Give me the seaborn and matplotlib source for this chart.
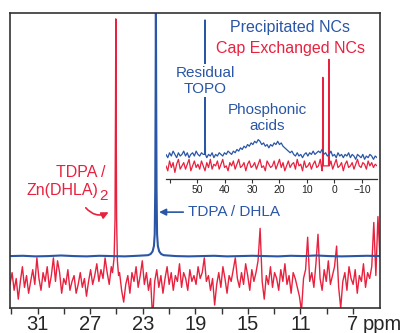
import matplotlib
matplotlib.use("Agg")
import matplotlib.pyplot as plt
import seaborn as sns
import numpy as np
import pandas as pd

# ---- main spectrum (ppm, intensity in % of axis height) ----
main_ppm_range = (33.1, 4.95)
red_noise = [
    8, 12, 6, 10, 3, 9, 14, 7, 11, 5,
    9, 13, 8, 17, 10, 6, 12, 9, 14, 7,
    11, 17, 9, 16, 12, 5, 10, 8, 13, 6,
    9, 11, 5, 8, 12, 7, 10, 4, 9, 13,
    8, 11, 15, 9, 13, 10, 17, 12, 8, 14,
    10, 13, 9, 12, 6, 2, 8, 11, 5, 12,
    9, 14, 7, 11, 16, 8, 12, 6, 10, -4,
    9, 13, 7, 11, 5, 10, 14, 8, 12, 6,
    11, 9, 15, 7, 12, 10, 6, 13, 9, 11,
    8, 14, 10, 12, 17, 9, 11, 6, 10, 1,
    8, 12, 7, 14, 10, 5, 11, 9, 13, 17,
    10, 7, 12, 8, 15, 11, 6, 13, 9, 12,
    16, 27, 9, 3, 11, 8, 14, 7, 12, 10,
    6, 13, 9, 15, 8, 11, 5, 12, 10, 7,
    4, -1, 10, 13, 24, 9, 12, 7, 15, 25,
    10, 6, 13, 9, 16, 8, 11, 14, 21, 7,
    0, 9, 12, 6, 14, 10, 8, 13, 5, 11,
    9, 15, 7, 12, 10, 14, 29, 11, 31, 17,
]
red_peak_ppm = [25.30, 25.18, 25.11, 25.07, 25.05, 25.03, 24.99, 24.93, 24.84]
red_peak_val = [12, 17, 30, 70, 98, 70, 30, 16, 11]

blue_base = [17.6, 17.7, 17.5, 17.6, 17.8, 17.6, 17.5, 17.7, 17.6, 17.5,
             17.7, 17.6, 17.8, 17.6, 17.5, 17.6, 17.7, 17.5, 17.6, 17.7,
             17.6, 17.5, 17.7, 17.6, 17.8, 17.6, 17.5, 17.6, 17.7, 17.6]
blue_peak_ppm = [22.60, 22.40, 22.25, 22.15, 22.09, 22.05, 22.02, 22.00,
                 21.98, 21.95, 21.91, 21.85, 21.75, 21.60, 21.40]
blue_peak_val = [17.9, 18.3, 19.2, 21.0, 25, 40, 75, 105, 75, 40, 25,
                 21.0, 19.2, 18.3, 17.9]

# ---- inset spectrum ----
inset_ppm_range = (61.3, -15.5)
inset_blue = [
    15, 13, 16, 14, 17, 15, 13, 16, 14, 15,
    17, 14, 16, 13, 15, 16, 14, 17, 15, 14,
    16, 15, 14, 13, 15, 14, 16, 13, 15, 14,
    16, 15, 14, 16, 15, 17, 16, 15, 17, 16,
    18, 17, 19, 18, 20, 19, 21, 20, 22, 21,
    23, 22, 24, 23, 21, 22, 20, 21, 19, 21,
    20, 22, 21, 23, 21, 22, 20, 19, 18, 17,
    16, 17, 15, 14, 16, 14, 15, 13, 15, 16,
    14, 16, 15, 17, 15, 16, 17, 16, 18, 15,
    16, 14, 15, 17, 14, 15, 13, 16, 14, 15,
    13, 15, 14, 16, 13, 15, 14, 12, 15, 14,
    13, 15, 12, 14, 13, 15, 14, 12, 14, 13,
]
inset_red = [
    8, 5, 11, 7, 10, 4, 9, 12, 6, 8,
    10, 6, 9, 12, 5, 8, 11, 7, 9, 6,
    11, 8, 5, 10, 7, 12, 6, 9, 8, 11,
    6, 9, 12, 7, 8, 5, 10, 8, 11, 6,
    9, 12, 7, 8, 10, 5, 9, 11, 7, 8,
    10, 6, 9, 12, 7, 8, 5, 11, 9, 7,
    8, 11, 6, 9, 12, 7, 10, 5, 8, 11,
    7, 9, 10, 6, 12, 8, 9, 5, 11, 7,
    8, 10, 6, 9, 11, 7, 8, 12, 5, 9,
    10, 7, 8, 11, 6, 9, 12, 7, 8, 10,
    5, 9, 11, 7, 8, 10, 6, 9, 12, 8,
    7, 10, 9, 6, 11, 8, 10, 7, 9, 8,
]
topo_ppm = [47.25, 47.1, 46.95]
topo_val = [15, 97, 15]
red_spike_ppm = [4.35, 4.2, 4.05, 2.15, 2.0, 1.85]
red_spike_val = [8, 62, 8, 8, 73, 8]

main_ticks = [31, 27, 23, 19, 15, 11, 7]
main_minor = [33, 29, 25, 21, 17, 13, 9]
inset_ticks = [60, 50, 40, 30, 20, 10, 0, -10]
inset_labels = ["", "50", "40", "30", "20", "10", "0", "\u221210"]

BLUE = "#2a56a6"
RED = "#e8213f"


def trace(ppm_range, values, extra_ppm=(), extra_val=()):
    # evenly spaced spectrum points, with the sharp lines spliced in
    ppm = np.linspace(ppm_range[0], ppm_range[1], len(values))
    keep = np.ones(len(ppm), dtype=bool)
    if len(extra_ppm):
        keep = (ppm > max(extra_ppm)) | (ppm < min(extra_ppm))
    df = pd.DataFrame({"ppm": np.concatenate([ppm[keep], extra_ppm]),
                       "intensity": np.concatenate([np.array(values)[keep],
                                                    extra_val])})
    return df.sort_values("ppm")


sns.set_theme(style="white")
plt.rcParams["font.family"] = ["Liberation Sans", "DejaVu Sans"]

fig = plt.figure(figsize=(4.05, 3.33), dpi=100)
ax = fig.add_axes([10 / 405, 25 / 333, 370 / 405, 295 / 333])
ax_in = fig.add_axes([166 / 405, 154 / 333, 211 / 405, 164 / 333])

red_df = trace(main_ppm_range, red_noise, red_peak_ppm, red_peak_val)
blue_df = trace(main_ppm_range, blue_base, blue_peak_ppm, blue_peak_val)
sns.lineplot(data=red_df, x="ppm", y="intensity", ax=ax, estimator=None,
             color=RED, linewidth=1.0)
sns.lineplot(data=blue_df, x="ppm", y="intensity", ax=ax, estimator=None,
             color=BLUE, linewidth=1.5)

ax.set_xlim(*main_ppm_range)
ax.set_ylim(0, 100)
ax.set_yticks([])
ax.set_xlabel("")
ax.set_ylabel("")
ax.set_xticks(main_ticks)
ax.set_xticklabels([str(t) for t in main_ticks])
ax.set_xticks(main_minor, minor=True)
ax.tick_params(axis="x", which="both", direction="out", length=4, width=1,
               color="#333333", bottom=True, labelsize=14.5, pad=1)
for s in ax.spines.values():
    s.set_color("#333333")
    s.set_linewidth(1.2)
ax.annotate("ppm", xy=(0.954, 0), xycoords="axes fraction",
            xytext=(0, -5), textcoords="offset points",
            ha="left", va="top", fontsize=14.5)

ax.text(0.259, 0.458, "TDPA /", transform=ax.transAxes,
        ha="right", va="center", color=RED, fontsize=11.5)
ax.text(0.240, 0.397, "Zn(DHLA)", transform=ax.transAxes,
        ha="right", va="center", color=RED, fontsize=11.5)
ax.text(0.240, 0.379, "2", transform=ax.transAxes,
        ha="left", va="center", color=RED, fontsize=11)
ax.annotate("", xy=(0.273, 0.329), xytext=(0.200, 0.347),
            xycoords="axes fraction",
            arrowprops=dict(arrowstyle="-|>", color=RED, lw=1.2,
                            connectionstyle="arc3,rad=0.45",
                            mutation_scale=10))
ax.annotate("TDPA / DHLA", xy=(0.403, 0.325), xytext=(0.481, 0.325),
            xycoords="axes fraction", ha="left", va="center",
            color=BLUE, fontsize=11,
            arrowprops=dict(arrowstyle="-|>", color=BLUE, lw=1.2,
                            mutation_scale=10, shrinkA=1, shrinkB=0))

# ---- inset ----
in_blue = trace(inset_ppm_range, inset_blue, topo_ppm, topo_val)
in_red = trace(inset_ppm_range, inset_red, red_spike_ppm, red_spike_val)
sns.lineplot(data=in_red, x="ppm", y="intensity", ax=ax_in, estimator=None,
             color=RED, linewidth=0.9)
sns.lineplot(data=in_blue, x="ppm", y="intensity", ax=ax_in, estimator=None,
             color=BLUE, linewidth=0.9)
ax_in.set_facecolor("none")
ax_in.set_xlim(*inset_ppm_range)
ax_in.set_ylim(0, 100)
ax_in.set_yticks([])
ax_in.set_xlabel("")
ax_in.set_ylabel("")
ax_in.set_xticks(inset_ticks)
ax_in.set_xticklabels(inset_labels)
ax_in.tick_params(axis="x", direction="out", length=3, width=0.8,
                  color="#333333", bottom=True, labelsize=7.5, pad=1,
                  labelcolor="#222222")
for name, s in ax_in.spines.items():
    s.set_visible(name == "bottom")
ax_in.spines["bottom"].set_color("#333333")
ax_in.spines["bottom"].set_linewidth(0.9)

ax_in.text(0.588, 0.921, "Precipitated NCs", transform=ax_in.transAxes,
           ha="center", va="center", color=BLUE, fontsize=11.5)
ax_in.text(0.588, 0.795, "Cap Exchanged NCs", transform=ax_in.transAxes,
           ha="center", va="center", color=RED, fontsize=11.5)
ax_in.text(0.185, 0.598, "Residual\nTOPO", transform=ax_in.transAxes,
           ha="center", va="center", color=BLUE, fontsize=11,
           bbox=dict(facecolor="white", edgecolor="none", pad=1))
ax_in.text(0.48, 0.372, "Phosphonic\nacids", transform=ax_in.transAxes,
           ha="center", va="center", color=BLUE, fontsize=11)

fig.savefig("out.png", dpi=100)
